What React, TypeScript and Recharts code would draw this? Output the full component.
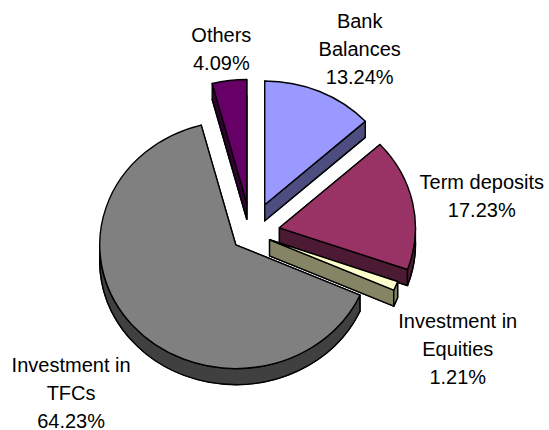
import React from "react";
import { Pie, PieChart } from "recharts";

const categories = [
  "Bank Balances",
  "Term deposits",
  "Investment in Equities",
  "Investment in TFCs",
  "Others",
];
const shares = [13.24, 17.23, 1.21, 64.23, 4.09];
const labelLines = [
  ["Bank", "Balances"],
  ["Term deposits"],
  ["Investment in", "Equities"],
  ["Investment in", "TFCs"],
  ["Others"],
];

const topColors = ["#9999FF", "#993366", "#FFFFCC", "#808080", "#660066"];
const sideColors = ["#4D4D80", "#4D1A33", "#858566", "#404040", "#330033"];
// explosion distance per slice (px)
const explode = [34, 29, 20, 20, 33];
// label nudge from the exploded rim point at the slice middle
const labelNudge = [
  [40, -63],
  [69, -15],
  [62, 42],
  [-61, 47],
  [-8, -38],
];

const data = categories.map((name, i) => ({ name, value: shares[i] }));

const TILT = 0.91;
const DEPTH = 16;
const LINE = 28;

function pt(ax: number, ay: number, r: number, t: number): [number, number] {
  const rad = (t * Math.PI) / 180;
  return [ax + r * Math.sin(rad), ay - r * TILT * Math.cos(rad)];
}

function sliceIndex(props: any) {
  const n = props.payload?.name ?? props.name;
  return Math.max(0, categories.indexOf(n));
}

function Slice3D(props: any) {
  const { cx, cy, outerRadius, startAngle, endAngle } = props;
  const i = sliceIndex(props);
  const t0 = 90 - startAngle;
  const t1 = 90 - endAngle;
  const tm = (t0 + t1) / 2;
  const [ax, ay] = pt(cx, cy, explode[i], tm);
  const r = outerRadius;
  const ry = r * TILT;
  const p0 = pt(ax, ay, r, t0);
  const p1 = pt(ax, ay, r, t1);
  const large = t1 - t0 > 180 ? 1 : 0;

  const face = (d: number) =>
    `M${ax},${ay + d} L${p0[0]},${p0[1] + d} A${r},${ry} 0 ${large} 1 ${p1[0]},${p1[1] + d} Z`;
  const wall = (p: [number, number]) =>
    `M${ax},${ay} L${p[0]},${p[1]} L${p[0]},${p[1] + DEPTH} L${ax},${ay + DEPTH} Z`;

  let rim = "";
  const u0 = Math.max(t0, 90);
  const u1 = Math.min(t1, 270);
  if (u1 > u0) {
    const q0 = pt(ax, ay, r, u0);
    const q1 = pt(ax, ay, r, u1);
    rim = `M${q0[0]},${q0[1]} A${r},${ry} 0 0 1 ${q1[0]},${q1[1]} L${q1[0]},${q1[1] + DEPTH} A${r},${ry} 0 0 0 ${q0[0]},${q0[1] + DEPTH} Z`;
  }

  const side = sideColors[i];
  const stroke = { stroke: "#000", strokeWidth: 1.4, strokeLinejoin: "round" as const };
  return (
    <g>
      <path d={face(DEPTH)} fill={side} {...stroke} />
      <path d={wall(p0)} fill={side} {...stroke} />
      <path d={wall(p1)} fill={side} {...stroke} />
      {rim && <path d={rim} fill={side} {...stroke} />}
      <path d={face(0)} fill={topColors[i]} {...stroke} />
    </g>
  );
}

function SliceLabel(props: any) {
  const { cx, cy, midAngle, outerRadius } = props;
  const i = sliceIndex(props);
  const tm = 90 - midAngle;
  const [x0, y0] = pt(cx, cy, outerRadius + explode[i], tm);
  const x = x0 + labelNudge[i][0];
  const y = y0 + labelNudge[i][1];
  const lines = [...labelLines[i], `${shares[i].toFixed(2)}%`];
  return (
    <text
      x={x}
      y={y}
      textAnchor="middle"
      fontFamily="'Liberation Sans', Arial, sans-serif"
      fontSize={20}
      fill="#000"
    >
      {lines.map((l, k) => (
        <tspan key={k} x={x} y={y + k * LINE}>
          {l}
        </tspan>
      ))}
    </text>
  );
}

export default function App() {
  return (
    <div style={{ position: "absolute", left: 0, top: 0, width: 549, height: 430, background: "#fff" }}>
      <PieChart width={549} height={430} margin={{ top: 0, right: 0, bottom: 0, left: 0 }}>
        <Pie
          data={data}
          dataKey="value"
          nameKey="name"
          cx={251}
          cy={233}
          outerRadius={136}
          startAngle={90}
          endAngle={-270}
          isAnimationActive={false}
          shape={Slice3D}
          activeShape={Slice3D}
          inactiveShape={Slice3D}
          label={SliceLabel}
          labelLine={false}
          stroke="none"
        />
      </PieChart>
    </div>
  );
}
